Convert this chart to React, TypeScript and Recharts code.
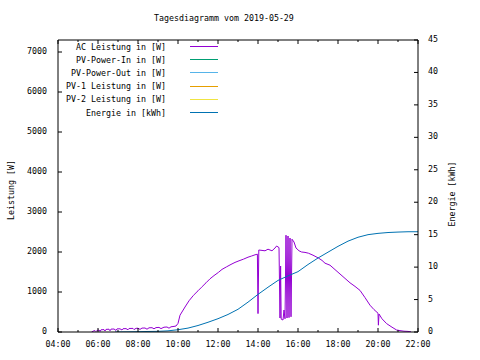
import { LineChart, Line, XAxis, YAxis, Legend } from "recharts";

const FONT = '"DejaVu Sans Mono", "Liberation Mono", monospace';
const FS = 8.3;

// axis ticks
const hourTicks = [4, 5, 6, 7, 8, 9, 10, 11, 12, 13, 14, 15, 16, 17, 18, 19, 20, 21, 22];
const wattTicks = [0, 1000, 2000, 3000, 4000, 5000, 6000, 7000];
const energyTicks = [0, 5, 10, 15, 20, 25, 30, 35, 40, 45];

// AC Leistung (W), time in hours
const acHours = [
  5.68, 5.75, 5.85, 5.9, 5.95, 6.05, 6.1, 6.15, 6.3, 6.35, 6.4, 6.55, 6.6, 6.65, 6.8, 6.9, 6.95,
  7.1, 7.2, 7.25, 7.4, 7.5, 7.55, 7.75, 7.8, 7.9, 8.0, 8.1, 8.2, 8.35, 8.45, 8.55, 8.7, 8.8, 8.9,
  9.05, 9.15, 9.3, 9.45, 9.55, 9.65, 9.8, 9.9, 10.0, 10.1, 10.35, 10.55, 10.77, 11.0, 11.18, 11.4,
  11.6, 11.8, 12.02, 12.2, 12.43, 12.65, 12.85, 13.05, 13.27, 13.5, 13.68, 13.85, 13.97, 14.0,
  14.04, 14.2, 14.35, 14.5, 14.7, 14.85, 14.93, 15.05, 15.1, 15.13, 15.16, 15.25, 15.3, 15.35,
  15.4, 15.45, 15.5, 15.55, 15.6, 15.65, 15.7, 15.8, 15.9, 16.05, 16.18, 16.35, 16.52, 16.75,
  17.02, 17.2, 17.35, 17.6, 17.85, 18.1, 18.35, 18.6, 18.85, 19.1, 19.35, 19.6, 19.8, 20.0,
  20.02, 20.05, 20.2, 20.43, 20.7, 20.93, 21.1, 21.3, 21.5, 21.65,
];
const acWatts = [
  0, 20, 35, 10, 40, 50, 15, 55, 60, 25, 65, 70, 30, 72, 75, 40, 78,
  80, 50, 82, 85, 55, 88, 90, 60, 92, 95, 65, 98, 100, 70, 105, 108, 80, 110,
  115, 85, 120, 125, 95, 130, 140, 150, 215, 420, 625, 780, 915, 1030, 1120, 1230,
  1330, 1410, 1490, 1565, 1630, 1690, 1740, 1780, 1820, 1870, 1900, 1930, 1945, 460,
  2050, 2040, 2030, 2070, 2030, 2100, 2150, 2110, 350, 1650, 320, 300, 550, 330,
  2420, 350, 2400, 360, 2350, 380, 2320, 2250, 2100, 2030, 2000, 1990, 1970, 1920,
  1850, 1790, 1720, 1670, 1560, 1450, 1340, 1230, 1140, 1040, 860, 670, 560, 470,
  170, 450, 330, 210, 120, 50, 35, 20, 15, 5,
];

// Energie (kWh)
const energyHours = [
  6.85, 7.5, 8.0, 8.5, 9.0, 9.5, 10.0, 10.5, 11.0, 11.5, 12.0, 12.5, 13.0, 13.5, 14.0, 14.5,
  15.0, 15.5, 16.0, 16.5, 17.0, 17.5, 18.0, 18.5, 19.0, 19.5, 20.0, 20.5, 21.0, 21.5, 22.0,
];
const energyKwh = [
  0, 0.02, 0.05, 0.08, 0.1, 0.18, 0.35, 0.6, 1.0, 1.5, 2.05, 2.7, 3.5, 4.6, 5.8, 6.9,
  7.95, 8.65, 9.3, 10.4, 11.4, 12.3, 13.2, 14.0, 14.6, 15.0, 15.2, 15.33, 15.4, 15.45, 15.45,
];

const seriesNames = [
  "AC Leistung in [W]",
  "PV-Power-In in [W]",
  "PV-Power-Out in [W]",
  "PV-1 Leistung in [W]",
  "PV-2 Leistung in [W]",
  "Energie in [kWh]",
];
const seriesColors = ["#9400d3", "#009e73", "#56b4e9", "#e69f00", "#f0e442", "#0072b2"];

const acData = acHours.map((t, i) => ({ t, v: acWatts[i] }));
const energyData = energyHours.map((t, i) => ({ t, v: energyKwh[i] }));
const emptyData: { t: number; v: number }[] = [];

const pad = (h: number) => `${String(h).padStart(2, "0")}:00`;

const TimeTick = ({ x, y, payload }: any) => {
  const major = payload.value % 2 === 0;
  return (
    <g>
      <line x1={x} y1={y} x2={x} y2={y - (major ? 4 : 2)} stroke="#000" />
      {major && (
        <text x={x} y={y + 15} textAnchor="middle" fontFamily={FONT} fontSize={FS} fill="#000">
          {pad(payload.value)}
        </text>
      )}
    </g>
  );
};

const TopTick = ({ x, y, payload }: any) => {
  const major = payload.value % 2 === 0;
  return <line x1={x} y1={y} x2={x} y2={y + (major ? 4 : 2)} stroke="#000" />;
};

const WattTick = ({ x, y, payload }: any) => (
  <g>
    <line x1={x} y1={y} x2={x + 4} y2={y} stroke="#000" />
    <text x={x - 11} y={y + 2} textAnchor="end" fontFamily={FONT} fontSize={FS} fill="#000">
      {payload.value}
    </text>
  </g>
);

const MirrorTick = ({ x, y }: any) => <line x1={x} y1={y} x2={x - 4} y2={y} stroke="#000" />;

const EnergyTick = ({ x, y, payload }: any) => (
  <g>
    <line x1={x} y1={y} x2={x - 4} y2={y} stroke="#000" />
    <text x={x + 10} y={y + 2} textAnchor="start" fontFamily={FONT} fontSize={FS} fill="#000">
      {payload.value}
    </text>
  </g>
);

// legend keeps the series order of the original plot
const LegendBox = () => (
  <div style={{ fontFamily: FONT, fontSize: FS, color: "#000" }}>
    {seriesNames.map((name, i) => (
      <div key={name} style={{ display: "flex", alignItems: "center", height: 13.2 }}>
        <div style={{ width: 166, textAlign: "right", whiteSpace: "pre" }}>{name}</div>
        <svg width={52} height={13} style={{ display: "block" }}>
          <line x1={24} y1={6.5} x2={52} y2={6.5} stroke={seriesColors[i]} strokeWidth={1} />
        </svg>
      </div>
    ))}
  </div>
);

export default function App() {
  return (
    <div style={{ position: "absolute", left: 0, top: 0, width: 480, height: 360, background: "#fff" }}>
      <div
        style={{
          position: "absolute",
          left: 154,
          top: 13,
          fontFamily: FONT,
          fontSize: FS,
          lineHeight: "10px",
          whiteSpace: "pre",
          color: "#000",
        }}
      >
        Tagesdiagramm vom 2019-05-29
      </div>
      <LineChart width={480} height={360} margin={{ top: 39, right: 0, bottom: 0, left: 0 }}>
        <XAxis
          xAxisId="t"
          type="number"
          dataKey="t"
          domain={[4, 22]}
          ticks={hourTicks}
          interval={0}
          allowDataOverflow
          height={28}
          tickSize={0}
          tickMargin={0}
          tickLine={false}
          tick={<TimeTick />}
          axisLine={{ stroke: "#000" }}
        />
        <XAxis
          xAxisId="top"
          orientation="top"
          type="number"
          dataKey="t"
          domain={[4, 22]}
          ticks={hourTicks}
          interval={0}
          allowDataOverflow
          height={1}
          tickSize={0}
          tickMargin={0}
          tickLine={false}
          tick={<TopTick />}
          axisLine={{ stroke: "#000" }}
        />
        <YAxis
          yAxisId="w"
          type="number"
          domain={[0, 7300]}
          ticks={wattTicks}
          interval={0}
          allowDataOverflow
          width={58}
          tickSize={0}
          tickMargin={0}
          tickLine={false}
          tick={<WattTick />}
          axisLine={{ stroke: "#000" }}
          label={{
            value: "Leistung [W]",
            angle: -90,
            position: "center",
            dx: -18,
            dy: 4,
            style: { fontFamily: FONT, fontSize: FS, fill: "#000" },
          }}
        />
        <YAxis
          yAxisId="wm"
          orientation="right"
          type="number"
          domain={[0, 7300]}
          ticks={wattTicks}
          interval={0}
          allowDataOverflow
          width={0}
          tickSize={0}
          tickMargin={0}
          tickLine={false}
          tick={<MirrorTick />}
          axisLine={false}
        />
        <YAxis
          yAxisId="e"
          orientation="right"
          type="number"
          domain={[0, 45]}
          ticks={energyTicks}
          interval={0}
          allowDataOverflow
          width={62}
          tickSize={0}
          tickMargin={0}
          tickLine={false}
          tick={<EnergyTick />}
          axisLine={{ stroke: "#000" }}
          label={{
            value: "Energie [kWh]",
            angle: -90,
            position: "center",
            dx: 3,
            dy: 8,
            style: { fontFamily: FONT, fontSize: FS, fill: "#000" },
          }}
        />
        <Legend
          layout="vertical"
          align="center"
          verticalAlign="middle"
          wrapperStyle={{ left: 0, top: 40, width: 230 }}
          content={() => <LegendBox />}
        />
        <Line
          xAxisId="t"
          yAxisId="w"
          data={acData}
          dataKey="v"
          name={seriesNames[0]}
          stroke={seriesColors[0]}
          strokeWidth={1}
          dot={false}
          activeDot={false}
          type="linear"
          isAnimationActive={false}
        />
        <Line xAxisId="top" yAxisId="wm" data={emptyData} dataKey="v" name={seriesNames[1]} stroke={seriesColors[1]} dot={false} isAnimationActive={false} />
        <Line xAxisId="top" yAxisId="wm" data={emptyData} dataKey="v" name={seriesNames[2]} stroke={seriesColors[2]} dot={false} isAnimationActive={false} />
        <Line xAxisId="top" yAxisId="wm" data={emptyData} dataKey="v" name={seriesNames[3]} stroke={seriesColors[3]} dot={false} isAnimationActive={false} />
        <Line xAxisId="top" yAxisId="wm" data={emptyData} dataKey="v" name={seriesNames[4]} stroke={seriesColors[4]} dot={false} isAnimationActive={false} />
        <Line
          xAxisId="t"
          yAxisId="e"
          data={energyData}
          dataKey="v"
          name={seriesNames[5]}
          stroke={seriesColors[5]}
          strokeWidth={1}
          dot={false}
          activeDot={false}
          type="linear"
          isAnimationActive={false}
        />
      </LineChart>
    </div>
  );
}
